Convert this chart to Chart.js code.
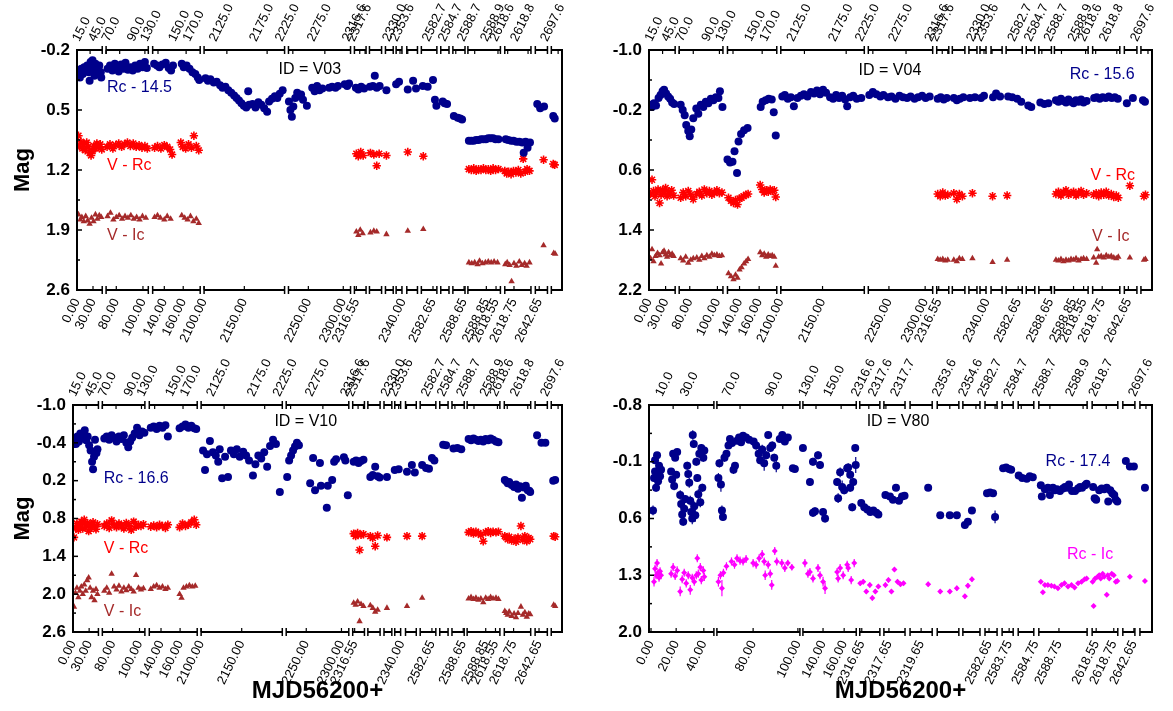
<!DOCTYPE html>
<html lang="en">
<head>
<meta charset="UTF-8">
<title>Light curves V03 V04 V10 V80</title>
<style>
  body { margin: 0; background: #fff; }
  #wrap { position: relative; width: 1173px; height: 711px; background: #fff; }
  canvas { position: absolute; }
</style>
</head>
<body>
<div id="wrap">
  <canvas id="c1" width="586" height="355" style="left:0;top:0"></canvas>
  <canvas id="c2" width="587" height="355" style="left:586px;top:0"></canvas>
  <canvas id="c3" width="586" height="356" style="left:0;top:355px"></canvas>
  <canvas id="c4" width="587" height="356" style="left:586px;top:355px"></canvas>
</div>
<script src="https://cdn.jsdelivr.net/npm/chart.js"></script>
<script>
// x is the position along the broken time axis (0-100 across the plot), y is magnitude

// axis pieces (broken axis) and the tick labels
const SEG_A = [[0,5.2],[6.0,14.7],[15.6,25.4],[26.2,42.8],[43.6,56.4],[57.2,59.6],[60.3,62.8],[63.6,65.2],[65.8,67.0],[68.0,70.2],[71.0,74.2],[75.0,76.7],[77.5,80.0],[80.6,87.3],[88.2,93.6],[94.5,97.0],[97.8,100]];
const SEG_B = [[0,12.9],[13.5,30.0],[30.6,41.2],[41.9,45.9],[46.7,50.9],[51.9,56.3],[57.3,61.6],[62.4,65.8],[66.8,69.2],[70.2,72.4],[73.4,76.5],[77.5,87.1],[88.1,93.2],[94.2,96.6],[97.6,100]];

const TOP_A_POS = [2.7,6.0,8.8,14.0,16.7,22.5,25.5,30.9,39.2,44.5,51.1,58.3,59.4,66.6,68.2,74.8,78.1,82.0,86.8,88.8,93.0,99.2];
const TOP_A_LABELS = ['15.0','45.0','70.0','90.0','130.0','150.0','170.0','2125.0','2175.0','2225.0','2275.0','2316.6','2317.6','2330.0','2353.6','2582.7','2584.7','2588.7','2588.9','2618.6','2618.8','2697.6'];
const BOT_A_POS = [0,3.3,8.1,13.6,18.0,21.9,26.2,34.5,47.7,54.9,57.6,67.2,73.4,79.8,84.4,86.4,90.1,95.3];
const BOT_A_LABELS = ['0.00','30.00','80.00','100.00','140.00','160.00','2100.00','2150.00','2250.00','2300.00','2316.55','2340.00','2582.65','2588.65','2588.85','2618.55','2618.75','2642.65'];

const TOP_B_POS = [4.8,9.7,18.1,26.6,33.2,38.2,43.7,47.1,51.5,59.8,65.0,68.8,74.0,79.7,86.3,90.9,98.8];
const TOP_B_LABELS = ['10.0','30.0','70.0','90.0','130.0','150.0','2316.6','2317.6','2317.7','2353.6','2354.6','2582.7','2584.7','2588.7','2588.9','2618.7','2697.6'];
const BOT_B_POS = [0.4,5.4,10.9,20.7,29.6,34.6,38.8,42.3,47.7,54.1,67.6,71.6,76.9,81.5,88.9,92.4,96.4];
const BOT_B_LABELS = ['0.00','20.00','40.00','80.00','100.00','140.00','160.00','2316.65','2317.65','2319.65','2582.65','2583.75','2584.75','2588.75','2618.55','2618.75','2642.65'];

// V03
const V03_RC = [[0.3,0.05],[0.6,0.12],[0.9,0.02],[1.2,0.08],[1.5,0.0],[1.8,0.04],[2.1,-0.02],[2.4,0.06],[2.6,0.16],[2.8,-0.06],[3.0,0.02],[3.2,-0.08],[3.4,0.04],[3.6,0.10],[3.8,-0.04],[4.0,0.0],[4.2,0.08],[4.4,0.02],[4.6,-0.02],[4.9,0.06],[5.0,0.12],
  [6.3,0.02],[6.8,-0.02],[7.3,0.04],[7.8,-0.04],[8.2,0.0],[8.6,0.05],[9.1,-0.03],[9.6,0.02],[10.0,-0.05],[10.5,0.03],[11.0,0.0],[11.5,0.04],[12.0,-0.02],[12.5,0.02],[13.0,-0.04],[13.5,0.0],[14.0,-0.06],[14.4,0.01],
  [15.9,-0.04],[16.5,-0.02],[17.0,0.0],[17.6,-0.03],[18.3,-0.05],[18.9,0.01],[19.4,0.04],[19.8,-0.02],[21.6,-0.04],[22.0,0.0],[22.6,-0.02],[23.2,0.02],[23.8,0.06],[24.4,0.08],[24.9,0.12],[25.2,0.15],
  [26.5,0.13],[27.0,0.16],[27.5,0.14],[28.2,0.18],[28.8,0.17],[29.5,0.21],[30.0,0.24],[30.6,0.23],[31.2,0.27],[31.8,0.30],[32.4,0.33],[32.9,0.36],[33.4,0.39],[33.9,0.42],[34.4,0.45],[34.9,0.47],[35.3,0.28],[35.5,0.44],[36.2,0.43],[36.8,0.47],[37.4,0.41],[38.0,0.44],[38.6,0.48],[39.2,0.52],[39.6,0.40],[40.2,0.37],[40.8,0.34],[41.3,0.36],[41.8,0.31],[42.4,0.27],
  [43.7,0.40],[44.0,0.50],[44.3,0.58],[44.6,0.46],[45.0,0.36],[45.4,0.30],[45.8,0.34],[46.2,0.32],[46.6,0.38],[47.4,0.45],[48.5,0.24],[49.0,0.28],[49.5,0.22],[50.0,0.27],[50.6,0.25],[52.0,0.24],[52.6,0.23],[53.3,0.24],[53.8,0.22],[55.2,0.20],[55.7,0.22],[56.1,0.19],
  [57.5,0.24],[58.0,0.26],[58.6,0.23],[59.2,0.25],[60.4,0.23],[61.0,0.22],[61.4,0.10],[61.8,0.24],[62.4,0.22],[63.8,0.27],[65.8,0.20],[66.4,0.17],[68.2,0.26],[69.3,0.16],[69.9,0.25],[71.3,0.22],[72.3,0.23],[73.4,0.15],[73.8,0.38],[74.1,0.45],[75.4,0.40],[75.8,0.42],[76.3,0.43],[77.7,0.57],[78.5,0.59],[79.0,0.60],[79.4,0.61],
  [80.8,0.86],[81.3,0.86],[81.8,0.86],[82.3,0.85],[82.8,0.85],[83.3,0.84],[83.8,0.84],[84.3,0.84],[84.8,0.83],[85.3,0.83],[85.8,0.83],[86.3,0.84],[86.9,0.84],
  [88.4,0.84],[88.9,0.85],[89.5,0.86],[90.0,0.86],[90.6,0.87],[91.2,0.87],[91.8,0.88],[92.1,1.00],[92.5,0.87],[92.9,0.94],[93.4,0.88],[94.9,0.43],[95.5,0.48],[96.3,0.46],[98.2,0.57],[98.5,0.60]];
const V03_VRC = [[0.3,0.80],[0.5,0.92],[0.8,0.87],[1.1,0.95],[1.4,0.90],[1.7,0.97],[2.0,0.88],[2.3,0.93],[2.6,1.00],[2.9,1.03],[3.2,0.98],[3.5,0.92],[3.8,0.95],[4.1,0.89],[4.4,0.93],[4.8,0.90],[5.1,0.96],
  [6.2,0.93],[6.8,0.90],[7.4,0.95],[8.0,0.91],[8.6,0.89],[9.2,0.93],[9.8,0.90],[10.4,0.88],[11.0,0.92],[11.6,0.89],[12.2,0.93],[12.8,0.91],[13.4,0.94],[14.0,0.92],[14.5,0.95],
  [16.0,0.94],[16.6,0.92],[17.3,0.95],[18.0,0.91],[18.6,0.93],[19.2,0.96],[19.6,1.02],[21.4,0.88],[21.8,0.93],[22.4,0.95],[23.0,0.90],[23.6,0.94],[24.1,0.80],[24.6,0.92],[25.1,0.97],
  [57.6,1.01],[58.0,1.04],[58.5,0.99],[59.0,1.03],[60.5,1.00],[61.2,1.02],[61.8,1.15],[62.3,1.01],[63.8,1.03],[68.2,0.99],[71.4,1.04],
  [80.8,1.19],[81.3,1.20],[81.8,1.18],[82.3,1.21],[82.8,1.19],[83.3,1.20],[83.8,1.18],[84.3,1.20],[84.8,1.19],[85.3,1.21],[85.8,1.18],[86.3,1.20],[86.9,1.19],
  [88.2,1.21],[88.6,1.24],[89.0,1.22],[89.5,1.25],[90.0,1.21],[90.5,1.23],[91.0,1.20],[91.5,1.24],[92.0,1.07],[92.4,1.22],[92.8,1.19],[93.3,1.21],[96.2,1.08],[98.2,1.13],[98.5,1.14]];
const V03_VIC = [[0.3,1.72],[0.7,1.78],[1.0,1.75],[1.4,1.80],[1.8,1.74],[2.2,1.79],[2.6,1.83],[3.0,1.76],[3.4,1.80],[3.8,1.72],[4.2,1.77],[4.6,1.73],[5.0,1.75],
  [6.3,1.74],[6.9,1.70],[7.5,1.78],[8.1,1.75],[8.7,1.73],[9.3,1.77],[9.9,1.74],[10.5,1.76],[11.1,1.73],[11.7,1.77],[12.3,1.75],[12.9,1.78],[13.5,1.74],[14.2,1.76],
  [16.0,1.75],[16.6,1.73],[17.2,1.76],[18.0,1.78],[18.6,1.74],[19.3,1.77],[21.6,1.73],[22.2,1.76],[22.8,1.78],[23.4,1.74],[24.0,1.80],[24.6,1.77],[25.1,1.82],
  [57.6,1.92],[58.0,1.96],[58.4,1.90],[58.9,1.94],[60.5,1.93],[61.2,1.91],[61.8,1.92],[63.8,1.95],[68.2,1.91],[71.4,1.89],
  [80.8,2.28],[81.4,2.29],[82.0,2.28],[82.6,2.30],[83.0,2.26],[83.6,2.29],[84.2,2.28],[84.8,2.27],[85.4,2.28],[86.0,2.27],[86.7,2.28],
  [88.3,2.30],[88.7,2.28],[89.2,2.31],[89.6,2.50],[90.1,2.29],[90.6,2.32],[91.2,2.27],[91.7,2.31],[92.3,2.29],[92.7,2.32],[93.3,2.28],[96.2,2.08],[98.3,2.17],[98.6,2.18]];

// V04
const V04_RC = [[0.2,-0.27],[0.6,-0.24],[1.0,-0.29],[1.4,-0.26],[1.9,-0.36],[2.3,-0.40],[2.7,-0.45],[3.0,-0.47],[3.4,-0.42],[3.8,-0.38],[4.2,-0.35],[4.6,-0.30],[5.0,-0.28],
  [6.3,-0.27],[6.7,-0.20],[7.1,-0.13],[7.4,0.00],[7.8,0.08],[8.1,0.15],[8.4,0.06],[8.8,-0.09],[9.4,-0.22],[9.8,-0.15],[10.3,-0.27],[10.8,-0.24],[11.3,-0.31],[11.8,-0.29],[12.3,-0.35],[12.8,-0.33],[13.3,-0.37],[13.8,-0.36],[14.1,-0.45],[14.6,-0.24],
  [15.6,0.46],[16.1,0.50],[16.6,0.49],[17.0,0.35],[17.5,0.64],[17.8,0.22],[18.3,0.12],[18.9,0.07],[19.6,0.04],
  [22.2,-0.24],[22.6,-0.31],[23.2,-0.33],[23.8,-0.35],[24.4,-0.34],[24.8,-0.17],[25.2,0.14],
  [26.5,-0.38],[27.0,-0.40],[27.6,-0.35],[28.2,-0.37],[28.8,-0.25],[29.5,-0.36],[30.2,-0.39],[30.8,-0.41],[31.5,-0.38],[32.2,-0.44],[32.8,-0.42],[33.4,-0.46],[34.0,-0.41],[34.6,-0.47],[35.2,-0.43],[36.0,-0.37],[36.6,-0.35],[37.2,-0.40],[37.8,-0.36],[38.4,-0.39],[39.0,-0.34],[39.4,-0.25],[40.0,-0.37],[40.6,-0.39],[41.3,-0.35],[42.2,-0.36],
  [43.8,-0.40],[44.5,-0.44],[45.2,-0.41],[46.0,-0.38],[46.6,-0.40],[47.5,-0.37],[48.2,-0.38],[49.0,-0.35],[49.8,-0.39],[50.5,-0.37],[51.3,-0.36],[52.0,-0.38],[52.8,-0.35],[53.5,-0.37],[54.3,-0.39],[55.0,-0.36],[55.8,-0.38],
  [57.4,-0.35],[58.0,-0.37],[58.6,-0.34],[59.2,-0.36],[60.6,-0.36],[61.2,-0.33],[61.8,-0.35],[62.5,-0.37],[63.8,-0.36],[64.8,-0.37],[66.0,-0.36],[66.6,-0.39],[68.4,-0.37],[69.0,-0.42],[69.8,-0.38],[71.4,-0.38],[72.2,-0.37],[73.2,-0.35],[74.0,-0.31],[75.4,-0.26],[76.0,-0.24],[77.8,-0.30],[78.6,-0.28],[79.4,-0.29],
  [80.9,-0.33],[81.4,-0.31],[81.9,-0.35],[82.4,-0.32],[82.9,-0.30],[83.4,-0.34],[83.9,-0.31],[84.4,-0.29],[84.9,-0.33],[85.4,-0.31],[85.9,-0.34],[86.4,-0.30],[87.0,-0.32],
  [88.5,-0.36],[89.0,-0.37],[89.6,-0.35],[90.2,-0.37],[90.8,-0.36],[91.4,-0.38],[92.0,-0.36],[92.6,-0.37],[93.2,-0.35],[95.0,-0.29],[96.2,-0.36],[98.2,-0.33],[98.6,-0.31]];
const V04_VRC = [[0.3,0.92],[0.6,0.73],[0.9,0.88],[1.2,0.95],[1.5,0.90],[1.8,0.86],[2.1,1.04],[2.4,0.93],[2.7,0.87],[3.0,0.91],[3.3,0.84],[3.6,0.95],[3.9,0.89],[4.2,0.92],[4.5,0.87],[4.9,0.94],
  [6.3,0.97],[6.8,0.90],[7.3,0.95],[7.8,0.88],[8.3,0.93],[8.8,0.99],[9.5,0.92],[10.0,0.89],[10.5,0.94],[11.0,0.86],[11.5,0.91],[12.0,0.88],[12.5,0.93],[13.0,0.90],[13.5,0.87],[14.0,0.91],[14.5,0.90],
  [15.8,0.97],[16.3,1.01],[16.8,1.04],[17.2,1.00],[17.6,1.06],[18.0,0.98],[18.4,0.97],[18.8,0.95],[19.3,0.93],[19.7,0.92],
  [22.1,0.80],[22.5,0.86],[22.9,0.90],[23.3,0.87],[23.7,0.89],[24.1,0.86],[24.5,0.88],[24.9,0.87],[25.2,0.96],
  [57.4,0.92],[57.9,0.95],[58.4,0.90],[58.9,0.94],[59.4,0.93],[60.6,0.91],[61.2,0.99],[61.7,0.92],[62.3,0.95],[64.3,0.91],[68.3,0.95],[71.2,0.94],
  [80.9,0.92],[81.4,0.89],[81.9,0.94],[82.4,0.90],[82.9,0.87],[83.4,0.93],[83.9,0.91],[84.4,0.89],[84.9,0.94],[85.4,0.91],[85.9,0.88],[86.4,0.93],[87.0,0.91],
  [88.4,0.93],[88.9,0.91],[89.4,0.95],[89.9,0.90],[90.4,0.93],[90.9,0.89],[91.4,0.94],[91.9,0.92],[92.4,0.96],[92.9,0.94],[93.3,0.97],[95.6,0.81],[98.4,0.95],[98.7,0.93]];
const V04_VIC = [[0.3,1.78],[0.6,1.66],[0.9,1.82],[1.3,1.75],[1.7,1.71],[2.1,1.74],[2.4,1.85],[2.7,1.70],[3.0,1.68],[3.3,1.73],[3.6,1.76],[3.9,1.70],[4.2,1.74],[4.6,1.72],[4.9,1.75],
  [6.3,1.78],[6.8,1.81],[7.3,1.76],[7.8,1.84],[8.3,1.80],[8.8,1.78],[9.5,1.77],[10.0,1.80],[10.5,1.75],[11.0,1.78],[11.5,1.74],[12.0,1.76],[12.5,1.72],[13.0,1.74],[13.5,1.73],[14.0,1.75],[14.5,1.74],
  [15.8,1.98],[16.3,2.02],[16.8,2.06],[17.2,2.00],[17.6,2.04],[18.0,1.93],[18.4,1.90],[18.9,1.85],[19.3,1.82],[19.7,1.79],
  [22.1,1.70],[22.5,1.74],[22.9,1.72],[23.3,1.76],[23.7,1.73],[24.1,1.75],[24.5,1.74],[24.9,1.76],[25.2,1.88],
  [57.4,1.79],[57.9,1.80],[58.4,1.79],[58.9,1.81],[59.4,1.80],[60.6,1.80],[61.2,1.82],[61.7,1.78],[62.3,1.79],[64.3,1.78],[68.3,1.83],[71.2,1.80],
  [80.9,1.80],[81.4,1.81],[81.9,1.79],[82.4,1.82],[82.9,1.80],[83.4,1.81],[83.9,1.79],[84.4,1.80],[84.9,1.78],[85.4,1.81],[85.9,1.79],[86.4,1.78],[87.0,1.79],
  [88.4,1.77],[88.9,1.84],[89.1,1.66],[89.4,1.76],[89.9,1.75],[90.4,1.77],[90.9,1.74],[91.4,1.76],[91.9,1.75],[92.4,1.77],[92.9,1.78],[93.3,1.76],[95.6,1.77],[98.4,1.80],[98.7,1.79]];

// V10
const V10_RC = [[0.3,-0.45],[0.6,-0.38],[0.9,-0.50],[1.2,-0.42],[1.5,-0.55],[1.8,-0.47],[2.1,-0.52],[2.4,-0.60],[2.7,-0.44],[3.0,-0.50],[3.3,-0.36],[3.6,-0.28],[3.9,-0.10],[4.1,0.02],[4.3,-0.18],[4.5,-0.45],[4.8,-0.24],[5.0,-0.30],
  [6.4,-0.47],[6.9,-0.50],[7.4,-0.45],[7.9,-0.52],[8.4,-0.48],[8.9,-0.42],[9.4,-0.50],[9.9,-0.46],[10.4,-0.52],[10.9,-0.40],[11.3,-0.33],[11.7,-0.42],[12.1,-0.48],[12.6,-0.55],[13.1,-0.64],[13.6,-0.52],[14.1,-0.58],[14.6,-0.56],
  [15.9,-0.64],[16.5,-0.66],[17.1,-0.62],[17.7,-0.67],[18.3,-0.64],[18.9,-0.68],[19.4,-0.50],[21.8,-0.63],[22.4,-0.66],[23.0,-0.69],[23.6,-0.64],[24.2,-0.67],[24.8,-0.63],[25.2,-0.62],
  [26.6,-0.28],[27.0,0.03],[27.4,-0.22],[28.0,-0.43],[28.6,-0.25],[29.2,-0.20],[29.7,-0.10],[30.0,-0.30],[30.5,0.16],[31.1,-0.18],[31.7,0.14],[32.3,-0.28],[32.9,-0.22],[33.5,-0.30],[34.1,-0.18],[34.8,-0.26],[35.4,-0.20],[36.0,-0.12],[36.8,0.12],[37.3,-0.06],[37.9,-0.20],[38.5,-0.15],[39.1,-0.25],[39.7,-0.02],[40.3,-0.35],[40.9,-0.45],[41.5,-0.38],[42.3,0.38],
  [43.8,0.14],[44.2,-0.12],[44.6,-0.20],[45.0,-0.28],[45.4,-0.34],[45.8,-0.40],[46.2,-0.36],[48.5,0.24],[49.1,-0.16],[49.5,0.35],[50.5,-0.08],[50.7,0.28],[51.9,0.63],[52.1,0.28],[53.0,0.19],[53.4,-0.10],[53.8,-0.14],[55.4,-0.17],[55.7,-0.12],[56.2,0.43],
  [57.4,-0.10],[57.9,-0.12],[58.4,-0.08],[58.9,-0.11],[59.4,-0.13],[60.8,0.14],[61.3,0.11],[61.8,-0.02],[62.3,0.13],[62.7,0.15],[64.2,0.14],[65.8,0.03],[66.6,0.02],[68.3,0.06],[69.3,-0.05],[69.9,0.07],[71.4,-0.05],[72.2,0.00],[72.8,0.01],[73.4,-0.16],[73.9,-0.12],[75.7,-0.37],[76.3,-0.36],[77.8,-0.31],[78.6,-0.32],[79.4,-0.30],
  [80.9,-0.46],[81.4,-0.44],[81.9,-0.47],[82.4,-0.45],[82.9,-0.43],[83.4,-0.45],[83.9,-0.42],[84.4,-0.46],[84.9,-0.44],[85.4,-0.47],[85.9,-0.45],[86.5,-0.42],[87.0,-0.41],
  [88.3,0.19],[88.6,0.21],[88.9,0.24],[89.2,0.22],[89.7,0.27],[90.2,0.30],[90.6,0.26],[91.0,0.33],[91.4,0.29],[91.8,0.47],[92.2,0.31],[92.6,0.28],[93.0,0.35],[93.3,0.36],[93.5,0.38],
  [94.9,-0.52],[95.8,-0.40],[96.6,-0.40],[98.2,0.20],[98.6,0.19]];
const V10_VRC = [[0.2,1.10],[0.5,0.95],[0.8,0.88],[1.1,0.98],[1.4,0.90],[1.7,0.85],[2.0,0.96],[2.3,0.82],[2.6,0.92],[2.9,0.87],[3.2,1.00],[3.5,0.90],[3.8,0.94],[4.1,0.86],[4.4,0.92],[4.7,0.97],[5.0,0.89],
  [6.4,0.92],[6.9,0.88],[7.4,0.95],[7.9,0.83],[8.4,0.90],[8.9,0.94],[9.4,0.88],[9.9,0.92],[10.4,0.96],[10.9,0.87],[11.4,0.91],[11.9,0.98],[12.4,0.85],[12.9,0.93],[13.4,0.90],[13.9,0.92],[14.4,0.89],
  [15.9,0.93],[16.5,0.91],[17.1,0.94],[17.7,0.90],[18.3,0.92],[18.9,0.95],[19.4,0.90],[21.8,0.94],[22.4,0.88],[23.0,0.92],[23.6,0.90],[24.2,0.86],[24.8,0.82],[25.2,0.90],
  [57.4,1.04],[57.8,1.08],[58.2,1.03],[58.6,1.30],[58.9,1.06],[59.4,1.05],[60.8,1.08],[61.3,1.11],[61.8,1.24],[62.3,1.07],[64.2,1.10],[68.3,1.08],[71.4,1.08],
  [80.9,1.02],[81.4,1.00],[81.9,1.04],[82.4,1.01],[82.9,1.03],[83.4,1.06],[83.9,1.16],[84.4,1.02],[84.9,1.00],[85.4,1.03],[85.9,1.01],[86.5,1.02],[87.0,1.01],
  [88.3,1.08],[88.6,1.10],[88.9,1.13],[89.2,1.09],[89.7,1.15],[90.2,1.12],[90.6,1.17],[91.0,1.10],[91.6,0.92],[92.0,1.14],[92.4,1.08],[92.8,1.16],[93.2,1.11],[93.5,1.13],[98.3,1.08],[98.6,1.09]];
const V10_VIC = [[0.2,2.20],[0.5,1.98],[0.8,1.90],[1.1,2.05],[1.4,1.95],[1.7,1.88],[2.0,2.00],[2.3,1.85],[2.6,1.95],[2.9,1.78],[3.2,1.74],[3.5,1.90],[3.8,2.05],[4.1,1.95],[4.4,2.10],[4.7,1.92],[5.0,2.00],
  [6.4,1.95],[6.9,1.90],[7.4,1.98],[7.9,1.68],[8.4,1.88],[8.9,1.93],[9.4,1.87],[9.9,1.96],[10.4,1.90],[10.9,1.94],[11.4,1.88],[11.9,1.92],[12.4,1.96],[12.9,1.70],[13.4,1.90],[13.9,1.93],[14.4,1.91],
  [15.9,1.92],[16.5,1.88],[17.1,1.86],[17.7,1.90],[18.3,1.88],[18.9,1.92],[19.4,1.90],[21.8,2.00],[22.2,2.06],[22.6,1.90],[23.2,1.88],[23.8,1.86],[24.4,1.88],[25.0,1.87],
  [57.4,2.14],[57.8,2.17],[58.2,2.12],[58.6,2.43],[58.9,2.16],[59.4,2.19],[60.8,2.18],[61.3,2.22],[61.8,2.28],[62.3,2.25],[64.2,2.22],[68.3,2.19],[71.4,2.06],
  [80.9,2.07],[81.4,2.05],[81.9,2.08],[82.4,2.06],[82.9,2.09],[83.4,2.07],[83.9,2.13],[84.4,2.06],[84.9,2.08],[85.4,2.05],[85.9,2.07],[86.5,2.06],[87.0,2.08],
  [88.3,2.27],[88.6,2.30],[88.9,2.33],[89.2,2.28],[89.7,2.35],[90.2,2.31],[90.6,2.37],[91.0,2.30],[91.6,2.20],[92.0,2.33],[92.4,2.29],[92.8,2.36],[93.2,2.31],[93.5,2.32],[98.3,2.17],[98.6,2.19]];

// V80: [x, mag, error]
const V80_RC = [[0.8,0.50,0.06],[1.0,0.10,0.05],[1.2,0.02,0.04],[1.2,-0.12,0.04],[1.4,0.22,0.05],[1.6,-0.18,0.04],[1.6,0.05,0.05],[1.8,0.14,0.04],[2.0,-0.05,0.04],[2.2,0.08,0.05],[2.4,0.0,0.04],
  [4.4,0.02,0.04],[4.6,0.12,0.05],[4.8,-0.20,0.04],[5.0,0.20,0.05],[5.2,-0.15,0.04],[5.4,0.06,0.04],[5.6,-0.22,0.04],
  [6.2,0.31,0.06],[6.4,0.42,0.06],[6.6,0.55,0.06],[6.8,0.64,0.05],[7.0,0.48,0.06],[7.2,0.36,0.05],[7.6,-0.05,0.05],[7.8,0.05,0.05],[8.0,0.16,0.06],
  [8.2,0.38,0.06],[8.4,0.52,0.07],[8.6,0.60,0.07],[8.7,-0.43,0.06],[8.9,-0.32,0.05],[9.0,0.45,0.06],[9.2,0.56,0.08],[9.4,-0.10,0.05],
  [9.6,0.10,0.05],[9.8,0.30,0.06],[10.0,-0.20,0.05],[10.2,0.40,0.06],[10.4,-0.27,0.05],[10.6,0.22,0.05],[10.8,-0.15,0.05],[11.0,-0.24,0.05],
  [13.8,0.10,0.06],[14.0,-0.08,0.05],[14.3,0.18,0.09],[14.5,0.50,0.06],[14.7,0.58,0.05],[15.0,-0.15,0.05],[15.4,-0.20,0.04],[15.8,-0.30,0.04],[16.1,-0.38,0.04],[16.5,-0.33,0.04],[16.8,0.0,0.05],[17.1,-0.05,0.04],[17.5,-0.36,0.04],[17.9,-0.40,0.04],[18.3,-0.34,0.04],[18.7,-0.42,0.04],[19.3,-0.40,0.04],[19.9,-0.37,0.04],
  [20.8,-0.35,0.04],[21.3,-0.30,0.05],[21.8,-0.20,0.05],[22.1,-0.12,0.05],[22.5,-0.25,0.06],[22.9,-0.08,0.09],[23.3,-0.18,0.05],[23.7,-0.43,0.04],[24.1,-0.27,0.05],[24.5,-0.30,0.05],[24.9,-0.15,0.05],[25.3,-0.05,0.08],[26.0,-0.38,0.04],[26.5,-0.43,0.04],[27.0,-0.35,0.04],[27.6,-0.40,0.04],[28.6,-0.02,0.04],[29.0,-0.01,0.04],
  [30.6,-0.27,0.04],[32.0,0.15,0.05],[32.6,-0.10,0.05],[32.6,0.53,0.05],[33.0,0.51,0.05],[33.6,-0.18,0.05],[34.0,-0.06,0.05],[34.6,0.52,0.05],[35.0,0.60,0.05],[37.4,0.15,0.05],[37.6,0.35,0.06],[38.0,0.03,0.06],[38.4,0.21,0.08],[38.8,0.25,0.05],[39.4,-0.02,0.05],[39.6,-0.03,0.05],[40.0,0.06,0.05],[40.0,0.22,0.05],[40.4,0.46,0.05],[40.6,0.15,0.05],[41.0,-0.27,0.04],[41.1,-0.06,0.10],
  [42.2,0.41,0.04],[42.8,0.46,0.04],[43.4,0.49,0.04],[44.0,0.52,0.04],[44.6,0.50,0.04],[45.2,0.53,0.04],[45.6,0.55,0.04],
  [47.0,0.31,0.04],[47.9,0.33,0.04],[48.5,0.37,0.04],[49.1,0.22,0.04],[49.7,0.38,0.04],[50.3,0.33,0.04],[50.8,0.32,0.04],
  [55.5,0.22,0.04],[57.9,0.56,0.04],[59.8,0.56,0.04],[61.2,0.56,0.04],[62.8,0.68,0.04],[63.4,0.64,0.04],[64.2,0.50,0.04],
  [67.2,0.29,0.03],[67.8,0.28,0.03],[68.4,0.29,0.03],[68.8,0.58,0.08],[70.4,-0.02,0.03],[71.0,-0.03,0.03],[71.6,-0.01,0.03],[72.0,0.0,0.03],
  [73.5,0.07,0.03],[74.2,0.10,0.03],[75.1,0.11,0.03],[75.7,0.08,0.03],[76.3,0.09,0.03],
  [77.9,0.19,0.03],[78.1,0.33,0.03],[78.7,0.24,0.03],[79.3,0.22,0.03],[79.7,0.31,0.03],[80.3,0.22,0.03],[80.7,0.25,0.03],[81.1,0.24,0.03],[81.7,0.26,0.03],[82.3,0.23,0.03],[82.7,0.21,0.03],[83.1,0.22,0.03],[83.5,0.18,0.03],[84.1,0.26,0.03],[84.7,0.26,0.03],[85.3,0.23,0.03],[85.7,0.21,0.03],[86.1,0.22,0.03],[86.7,0.19,0.03],[87.0,0.17,0.03],
  [88.3,0.21,0.03],[88.6,0.35,0.04],[88.9,0.37,0.04],[89.5,0.25,0.03],[90.0,0.23,0.03],[90.5,0.24,0.03],[91.0,0.22,0.03],[91.3,0.39,0.04],[91.7,0.25,0.03],[92.1,0.29,0.03],[92.5,0.31,0.04],[92.8,0.37,0.04],[93.1,0.39,0.04],
  [94.8,-0.11,0.03],[95.6,-0.04,0.03],[96.4,-0.04,0.03],[98.6,0.22,0.03]];
const V80_RCIC = [[1.0,1.38,0.06],[1.2,1.22,0.05],[1.4,1.30,0.05],[1.6,1.15,0.05],[1.8,1.27,0.05],[2.0,1.33,0.05],[2.2,1.25,0.05],[2.4,1.30,0.05],
  [4.4,1.28,0.05],[4.8,1.20,0.05],[5.2,1.31,0.05],[5.6,1.24,0.05],[6.2,1.50,0.06],[6.6,1.35,0.05],[7.0,1.27,0.05],[7.4,1.40,0.05],[7.8,1.30,0.05],[8.2,1.48,0.06],[8.6,1.33,0.05],[9.0,1.38,0.05],[9.4,1.30,0.05],
  [9.6,1.09,0.05],[9.8,1.28,0.05],[10.2,1.20,0.05],[10.4,1.36,0.05],[10.8,1.24,0.05],[11.0,1.32,0.05],
  [13.8,1.38,0.06],[14.2,1.30,0.05],[14.5,1.46,0.10],[14.8,1.27,0.05],[15.4,1.19,0.05],[16.4,1.13,0.05],[17.0,1.17,0.05],[17.5,1.09,0.05],[18.1,1.12,0.05],[18.7,1.13,0.05],[19.3,1.10,0.05],
  [20.7,1.15,0.05],[21.3,1.17,0.05],[21.9,1.09,0.05],[22.5,1.04,0.05],[22.9,1.13,0.05],[23.1,1.30,0.06],[23.7,1.17,0.05],[24.1,1.28,0.05],[24.4,1.42,0.06],[25.0,1.00,0.05],[25.4,1.13,0.05],[26.4,1.15,0.05],[27.0,1.21,0.05],[27.6,1.15,0.04],[28.4,1.20,0.04],
  [31.0,1.15,0.05],[31.6,1.28,0.05],[32.0,1.26,0.05],[32.6,1.34,0.05],[33.6,1.21,0.05],[34.0,1.30,0.05],[34.6,1.38,0.06],[35.0,1.46,0.07],[37.4,1.26,0.05],[37.6,1.34,0.05],[38.0,1.21,0.05],[38.6,1.30,0.05],[39.4,1.17,0.05],[39.6,1.21,0.05],[40.2,1.36,0.05],[40.8,1.15,0.05],
  [42.0,1.40,0.03],[42.6,1.38,0.03],[43.2,1.50,0.03],[43.9,1.42,0.03],[44.4,1.58,0.03],[45.0,1.50,0.03],[45.6,1.44,0.03],
  [47.0,1.42,0.03],[47.6,1.36,0.03],[48.2,1.50,0.03],[48.8,1.23,0.03],[49.4,1.38,0.03],[50.0,1.41,0.03],[50.6,1.40,0.03],
  [55.5,1.41,0.03],[57.9,1.50,0.03],[59.8,1.50,0.03],[61.2,1.46,0.03],[62.8,1.56,0.03],[63.4,1.43,0.03],[64.2,1.35,0.03],
  [77.9,1.38,0.02],[78.3,1.51,0.02],[78.7,1.42,0.02],[79.3,1.42,0.02],[80.0,1.43,0.02],[80.6,1.44,0.02],[81.3,1.46,0.02],[82.0,1.42,0.02],[82.6,1.40,0.02],[83.3,1.44,0.02],[84.0,1.42,0.02],[84.6,1.45,0.02],[85.3,1.40,0.02],[86.0,1.38,0.02],[86.6,1.35,0.02],[87.0,1.34,0.02],
  [88.2,1.38,0.02],[88.4,1.68,0.02],[88.7,1.34,0.02],[89.2,1.32,0.02],[89.5,1.30,0.02],[89.8,1.34,0.02],[90.2,1.28,0.02],[90.5,1.32,0.02],[91.0,1.54,0.02],[91.2,1.30,0.02],[91.5,1.34,0.02],[92.0,1.28,0.02],[92.4,1.30,0.02],[92.8,1.38,0.02],[93.1,1.37,0.02],
  [95.6,1.32,0.02],[98.6,1.37,0.02]];

const NAVY = '#00008B', RED = '#FF0000', BROWN = '#A52A2A', MAGENTA = '#FF00FF';
Chart.defaults.font.family = '"Liberation Sans", Arial, sans-serif';
Chart.defaults.color = '#000';

function rc(data) {
  return { data, pointStyle: 'circle', pointRadius: 4, backgroundColor: NAVY, borderColor: NAVY, borderWidth: 0 };
}
function vrc(data) {
  return { data, pointStyle: 'star', pointRadius: 4.2, borderColor: RED, backgroundColor: RED, borderWidth: 1.6 };
}
function vic(data) {
  return { data, pointStyle: 'triangle', pointRadius: 3.7, borderColor: BROWN, backgroundColor: BROWN, borderWidth: 0 };
}

// axis frame: solid left/right, broken top/bottom with end caps
function frame(segs, topPos, botPos) {
  return {
    id: 'frame',
    afterDatasetsDraw(chart) {
      const { ctx, chartArea: a, scales } = chart;
      const x = scales.x, y = scales.y;
      const line = (x0, y0, x1, y1) => { ctx.beginPath(); ctx.moveTo(x0, y0); ctx.lineTo(x1, y1); ctx.stroke(); };
      const inSeg = v => segs.some(([s, e]) => v >= s && v <= e);
      ctx.save();
      ctx.strokeStyle = '#000';
      ctx.lineWidth = 2;
      line(a.left, a.top - 1, a.left, a.bottom + 1);
      line(a.right, a.top - 1, a.right, a.bottom + 1);
      [[a.top, 1, topPos], [a.bottom, -1, botPos]].forEach(([yy, dir, pos]) => {
        segs.forEach(([s, e]) => {
          const p0 = x.getPixelForValue(s), p1 = x.getPixelForValue(e);
          ctx.lineWidth = 2;
          line(p0, yy, p1, yy);
          ctx.lineWidth = 1.5;
          if (s > 0) line(p0, yy - 4, p0, yy + 4);
          if (e < 100) line(p1, yy - 4, p1, yy + 4);
        });
        ctx.lineWidth = 1.2;
        pos.forEach(v => {
          if (!inSeg(v)) return;
          const p = x.getPixelForValue(v);
          line(p, yy, p, yy + dir * 4);
        });
      });
      ctx.lineWidth = 1.5;
      const t = y.ticks.map(k => k.value);
      t.forEach((v, i) => {
        const p = y.getPixelForValue(v);
        line(a.left, p, a.left + 5, p);
        if (i < t.length - 1) {
          const m = y.getPixelForValue((v + t[i + 1]) / 2);
          line(a.left, m, a.left + 3, m);
        }
      });
      ctx.restore();
    }
  };
}

// vertical error bars from the third value of each point
const errorBars = {
  id: 'errorBars',
  beforeDatasetsDraw(chart) {
    const { ctx, scales: { y } } = chart;
    ctx.save();
    chart.data.datasets.forEach((ds, i) => {
      if (!ds.errBars) return;
      const meta = chart.getDatasetMeta(i);
      ctx.strokeStyle = ds.borderColor;
      ctx.lineWidth = 1.2;
      ds.data.forEach((d, j) => {
        const px = meta.data[j].x;
        ctx.beginPath();
        ctx.moveTo(px, y.getPixelForValue(d[1] - d[2]));
        ctx.lineTo(px, y.getPixelForValue(d[1] + d[2]));
        ctx.stroke();
      });
    });
    ctx.restore();
  }
};

function notes(items) {
  return {
    id: 'notes',
    afterDatasetsDraw(chart) {
      const { ctx, scales: { x, y } } = chart;
      ctx.save();
      ctx.font = '16px "Liberation Sans", Arial, sans-serif';
      ctx.textBaseline = 'middle';
      items.forEach(n => {
        ctx.fillStyle = n.color || '#000';
        ctx.textAlign = n.align || 'left';
        ctx.fillText(n.text, x.getPixelForValue(n.x), y.getPixelForValue(n.y));
      });
      ctx.restore();
    }
  };
}

function xAxis(position, pos, labels, height, title) {
  return {
    type: 'linear', axis: 'x', position, min: 0, max: 100,
    grid: { display: false, drawTicks: false }, border: { display: false },
    afterBuildTicks: s => { s.ticks = pos.map(v => ({ value: v })); },
    afterFit: s => { s.height = height; s.paddingLeft = 0; s.paddingRight = 0; },
    ticks: { autoSkip: false, minRotation: 64, maxRotation: 64, padding: 6, font: { size: 13 }, color: '#000',
      callback: (v, i) => labels[i] },
    title: { display: !!title, text: 'MJD56200+', font: { size: 24, weight: 'bold' }, color: '#000', padding: { top: 0, bottom: 5 } }
  };
}

function panel(id, o) {
  new Chart(document.getElementById(id), {
    type: 'scatter',
    data: { datasets: o.sets },
    options: {
      responsive: false, animation: false, devicePixelRatio: 1,
      layout: { padding: { right: o.padRight, left: 0, top: 0, bottom: 0 } },
      plugins: { legend: { display: false }, tooltip: { enabled: false } },
      scales: {
        x: xAxis('bottom', o.botPos, o.botLabels, o.botH, o.xTitle),
        xTop: xAxis('top', o.topPos, o.topLabels, 50, false),
        y: {
          type: 'linear', reverse: true, min: o.yMin, max: o.yMax,
          grid: { display: false, drawTicks: false }, border: { display: false },
          afterFit: s => { s.width = o.yW; },
          ticks: { stepSize: o.yStep, padding: 7, font: { size: 17, weight: 'bold' }, color: '#000',
            callback: v => v.toFixed(1) },
          title: { display: o.yTitle, text: 'Mag', font: { size: 22, weight: 'bold' }, color: '#000', padding: { top: 10, bottom: 0 } }
        }
      }
    },
    plugins: [frame(o.segs, o.topPos, o.botPos), errorBars, notes(o.notes)]
  });
}

panel('c1', {
  sets: [rc(V03_RC), vrc(V03_VRC), vic(V03_VIC)],
  segs: SEG_A, topPos: TOP_A_POS, topLabels: TOP_A_LABELS, botPos: BOT_A_POS, botLabels: BOT_A_LABELS,
  botH: 65, xTitle: false, yW: 77, padRight: 24, yMin: -0.2, yMax: 2.6, yStep: 0.7, yTitle: true,
  notes: [{ text: 'ID = V03', x: 48, y: 0.03, align: 'center' }, { text: 'Rc - 14.5', x: 6.2, y: 0.24, color: NAVY },
          { text: 'V - Rc', x: 6.2, y: 1.15, color: RED }, { text: 'V - Ic', x: 6.2, y: 1.97, color: BROWN }]
});
panel('c2', {
  sets: [rc(V04_RC), vrc(V04_VRC), vic(V04_VIC)],
  segs: SEG_A, topPos: TOP_A_POS, topLabels: TOP_A_LABELS, botPos: BOT_A_POS, botLabels: BOT_A_LABELS,
  botH: 65, xTitle: false, yW: 63, padRight: 21, yMin: -1.0, yMax: 2.2, yStep: 0.8, yTitle: false,
  notes: [{ text: 'ID = V04', x: 47.9, y: -0.73, align: 'center' }, { text: 'Rc - 15.6', x: 90.1, y: -0.67, color: NAVY, align: 'center' },
          { text: 'V - Rc', x: 92.2, y: 0.67, color: RED, align: 'center' }, { text: 'V - Ic', x: 91.8, y: 1.49, color: BROWN, align: 'center' }]
});
panel('c3', {
  sets: [rc(V10_RC), vrc(V10_VRC), vic(V10_VIC)],
  segs: SEG_A, topPos: TOP_A_POS, topLabels: TOP_A_LABELS, botPos: BOT_A_POS, botLabels: BOT_A_LABELS,
  botH: 79, xTitle: true, yW: 73, padRight: 24, yMin: -1.0, yMax: 2.6, yStep: 0.6, yTitle: true,
  notes: [{ text: 'ID = V10', x: 47.6, y: -0.73, align: 'center' }, { text: 'Rc - 16.6', x: 6.3, y: 0.16, color: NAVY },
          { text: 'V - Rc', x: 6.3, y: 1.27, color: RED }, { text: 'V - Ic', x: 6.3, y: 2.27, color: BROWN }]
});
panel('c4', {
  sets: [
    Object.assign(rc(V80_RC), { errBars: true }),
    { data: V80_RCIC, pointStyle: 'rectRot', pointRadius: 3, backgroundColor: MAGENTA, borderColor: MAGENTA, borderWidth: 0, errBars: true }
  ],
  segs: SEG_B, topPos: TOP_B_POS, topLabels: TOP_B_LABELS, botPos: BOT_B_POS, botLabels: BOT_B_LABELS,
  botH: 79, xTitle: true, yW: 63, padRight: 21, yMin: -0.8, yMax: 2.0, yStep: 0.7, yTitle: false,
  notes: [{ text: 'ID = V80', x: 49.5, y: -0.59, align: 'center' }, { text: 'Rc - 17.4', x: 85.3, y: -0.1, color: NAVY, align: 'center' },
          { text: 'Rc - Ic', x: 87.7, y: 1.05, color: MAGENTA, align: 'center' }]
});
</script>
</body>
</html>
